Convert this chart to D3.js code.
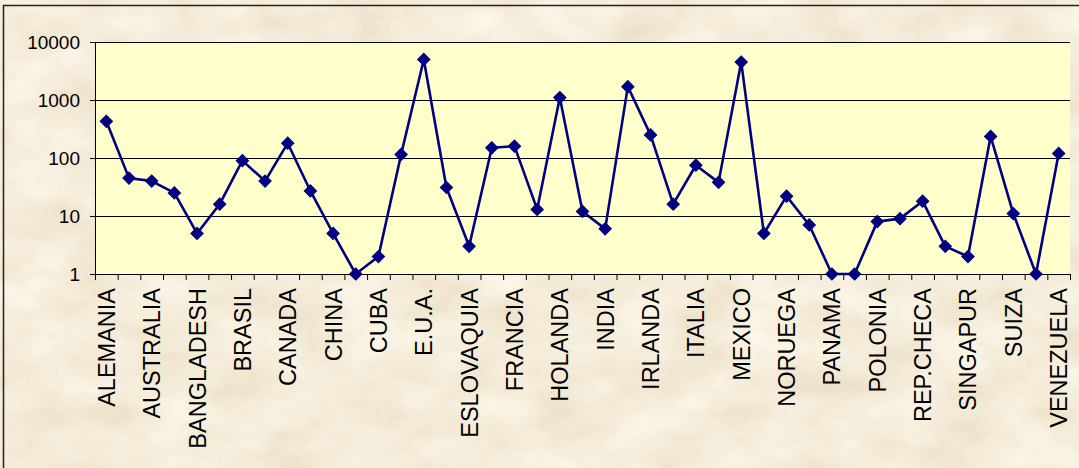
<!DOCTYPE html>
<html>
<head>
<meta charset="utf-8">
<script src="https://cdn.jsdelivr.net/npm/d3@7"></script>
<style>
  html, body { margin: 0; padding: 0; background: #e9d6b0; }
  svg { display: block; }
  text { font-family: "Liberation Sans", Arial, sans-serif; fill: #000; }
</style>
</head>
<body>
<div id="chart"></div>
<script>
// categories (every other one gets a visible label, like the original)
var countries = ["ALEMANIA", "ARGENTINA", "AUSTRALIA", "AUSTRIA", "BANGLADESH", "BELGICA",
  "BRASIL", "BULGARIA", "CANADA", "CHILE", "CHINA", "COLOMBIA", "CUBA", "DINAMARCA",
  "E.U.A.", "EGIPTO", "ESLOVAQUIA", "ESPAÑA", "FRANCIA", "GRAN BRETAÑA", "HOLANDA",
  "HONG KONG", "INDIA", "INDONESIA", "IRLANDA", "ISRAEL", "ITALIA", "JAPON", "MEXICO",
  "NICARAGUA", "NORUEGA", "NUEVA ZELANDA", "PANAMA", "PERU", "POLONIA", "PORTUGAL",
  "REP.CHECA", "RUSIA", "SINGAPUR", "SUECIA", "SUIZA", "TAIWAN", "VENEZUELA"];

var values = [430, 45, 40, 25, 5, 16, 90, 40, 180, 27, 5, 1, 2, 115, 5000, 31, 3, 150, 160,
  13, 1100, 12, 6, 1700, 250, 16, 75, 38, 4500, 5, 22, 7, 1, 1, 8, 9, 18, 3, 2, 235, 11, 1, 120];

var yTicks = [1, 10, 100, 1000, 10000];

var W = 1079, H = 468;
var plot = {left: 95, right: 1070, top: 42, bottom: 274};

var svg = d3.select("#chart").append("svg")
    .attr("width", W)
    .attr("height", H);

// parchment background
var defs = svg.append("defs");
var f = defs.append("filter").attr("id", "paper")
    .attr("x", 0).attr("y", 0).attr("width", "100%").attr("height", "100%");
f.append("feTurbulence")
    .attr("type", "fractalNoise")
    .attr("baseFrequency", "0.015 0.025")
    .attr("numOctaves", 5)
    .attr("seed", 7);
f.append("feColorMatrix")
    .attr("type", "matrix")
    .attr("values", "0.20 0 0 0 0.81  0.26 0 0 0 0.71  0.34 0 0 0 0.53  0 0 0 0 1");

svg.append("rect")
    .attr("width", W).attr("height", H)
    .attr("fill", "#e9d6b0");
svg.append("rect")
    .attr("width", W).attr("height", H)
    .attr("filter", "url(#paper)");

// chart border (right / bottom edges are cut off in the original)
svg.append("rect")
    .attr("x", 3.5).attr("y", 5.5)
    .attr("width", W + 10).attr("height", H + 10)
    .attr("fill", "none")
    .attr("stroke", "#222")
    .attr("stroke-width", 1.5);

// scales
var x = d3.scaleBand()
    .domain(countries)
    .range([plot.left, plot.right])
    .padding(0);

var xi = d3.scaleLinear()
    .domain([0, countries.length])
    .range([plot.left, plot.right]);

var y = d3.scaleLog()
    .domain([1, 10000])
    .range([plot.bottom, plot.top]);

// plot area
svg.append("rect")
    .attr("x", plot.left).attr("y", plot.top)
    .attr("width", plot.right - plot.left)
    .attr("height", plot.bottom - plot.top)
    .attr("fill", "#ffffcc");

// gridlines
svg.append("g")
  .selectAll("line")
  .data(yTicks)
  .enter().append("line")
    .attr("x1", plot.left).attr("x2", plot.right)
    .attr("y1", function(d) { return Math.round(y(d)) + 0.5; })
    .attr("y2", function(d) { return Math.round(y(d)) + 0.5; })
    .attr("stroke", "#000")
    .attr("stroke-width", 1);

// Y axis
var yAxis = svg.append("g")
    .attr("transform", "translate(" + plot.left + ",0)")
    .call(d3.axisLeft(y).tickValues(yTicks).tickFormat(d3.format("d")).tickSize(5).tickPadding(10));
yAxis.selectAll("text").style("font-size", "19px").attr("font-family", null);
yAxis.selectAll("line, path").attr("stroke", "#000");
yAxis.select(".domain").attr("d", "M0.5," + plot.top + "V" + plot.bottom);

// X axis tick marks (between categories)
var xTickAxis = svg.append("g")
    .attr("transform", "translate(0," + plot.bottom + ")")
    .call(d3.axisBottom(xi).tickValues(d3.range(countries.length + 1)).tickSize(6).tickFormat(""));
xTickAxis.select(".domain").attr("d", "M" + plot.left + ",0.5H" + plot.right);
xTickAxis.selectAll("line, path").attr("stroke", "#000");

// X labels (every other category)
var xLab = svg.append("g")
    .attr("transform", "translate(0," + plot.bottom + ")")
    .call(d3.axisBottom(x).tickSize(0).tickPadding(0)
      .tickFormat(function(d, i) { return i % 2 === 0 ? d : ""; }));
xLab.select(".domain").remove();
xLab.selectAll("text")
    .attr("font-family", null)
    .style("font-size", "23.5px")
    .attr("text-anchor", "end")
    .attr("transform", "rotate(-90)")
    .attr("x", -14)
    .attr("y", 0)
    .attr("dy", "0.36em");

// line
var line = d3.line()
    .x(function(d, i) { return x(countries[i]) + x.bandwidth() / 2; })
    .y(function(d) { return y(d); });

svg.append("path")
    .datum(values)
    .attr("d", line)
    .attr("fill", "none")
    .attr("stroke", "#000080")
    .attr("stroke-width", 2.6)
    .attr("stroke-linejoin", "round");

// diamond markers
svg.append("g")
  .selectAll("path")
  .data(values)
  .enter().append("path")
    .attr("d", d3.symbol().type(d3.symbolSquare).size(76))
    .attr("transform", function(d, i) {
      return "translate(" + (x(countries[i]) + x.bandwidth() / 2) + "," + y(d) + ") rotate(45)";
    })
    .attr("fill", "#000080")
    .attr("stroke", "#000080")
    .attr("stroke-width", 1);
</script>
</body>
</html>
